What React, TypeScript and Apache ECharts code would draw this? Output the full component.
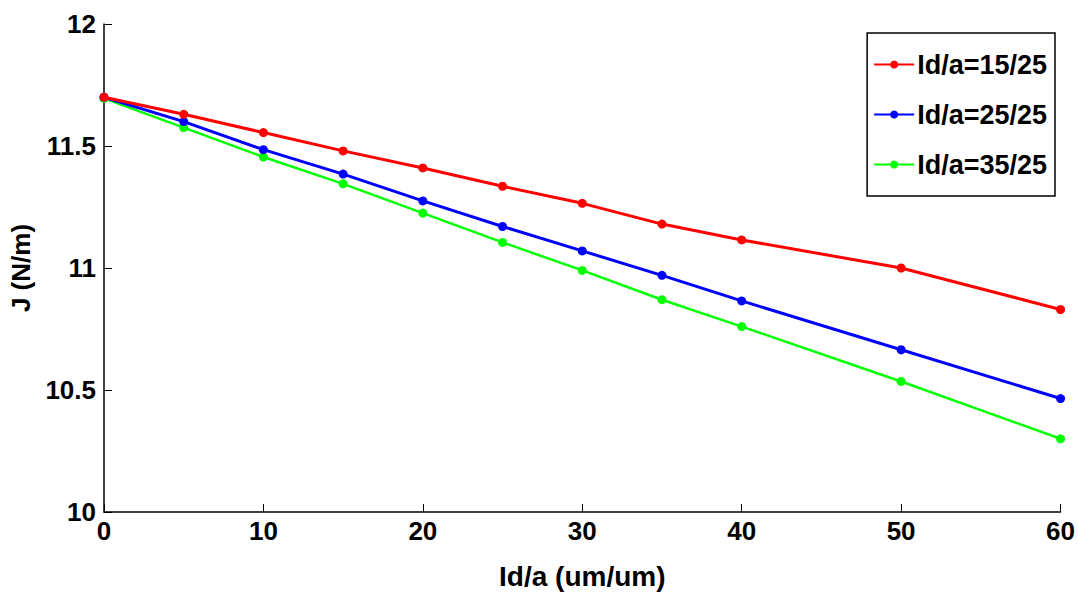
import React, { useEffect, useRef } from "react";
import * as echarts from "echarts";

const xValues = [0, 5, 10, 15, 20, 25, 30, 35, 40, 50, 60];
const red1525 = [11.70, 11.63, 11.555, 11.48, 11.41, 11.335, 11.265, 11.18, 11.115, 11.0, 10.83];
const blue2525 = [11.70, 11.60, 11.485, 11.385, 11.275, 11.17, 11.07, 10.97, 10.865, 10.665, 10.465];
const green3525 = [11.695, 11.575, 11.455, 11.345, 11.225, 11.105, 10.99, 10.87, 10.76, 10.535, 10.30];
const seriesNames = ["Id/a=15/25", "Id/a=25/25", "Id/a=35/25"];
const seriesColors = ["#ff0000", "#0000ff", "#00ff00"];

const FONT = "'Liberation Sans Narrow', 'Arial Narrow', 'Liberation Sans', Arial, sans-serif";

export default function App() {
  const ref = useRef<HTMLDivElement>(null);
  useEffect(() => {
    if (!ref.current) return;
    const chart = echarts.init(ref.current, undefined, { renderer: "svg" });
    const datasets = [red1525, blue2525, green3525];
    chart.setOption({
      animation: false,
      backgroundColor: "#ffffff",
      grid: { left: 104, right: 16, top: 24, bottom: 95, containLabel: false },
      legend: {
        orient: "vertical",
        right: 23,
        top: 33,
        padding: [18, 8, 18, 6],
        itemGap: 23,
        itemWidth: 40,
        itemHeight: 10,
        borderColor: "#000",
        borderWidth: 1.5,
        backgroundColor: "#fff",
        textStyle: { fontFamily: FONT, fontWeight: "bold", fontSize: 27, color: "#000", padding: [0, 0, 0, -2] },
        data: seriesNames,
      },
      xAxis: {
        type: "value",
        min: 0,
        max: 60,
        interval: 10,
        name: "Id/a (um/um)",
        nameLocation: "middle",
        nameGap: 50,
        nameTextStyle: { fontFamily: FONT, fontWeight: "bold", fontSize: 28, color: "#000" },
        axisLine: { show: true, onZero: false, lineStyle: { color: "#000", width: 1.5 } },
        axisTick: { show: true, inside: true, length: 8, lineStyle: { color: "#000" } },
        axisLabel: { fontFamily: FONT, fontWeight: "bold", fontSize: 26, color: "#000", margin: 6 },
        splitLine: { show: false },
      },
      yAxis: {
        type: "value",
        min: 10,
        max: 12,
        interval: 0.5,
        name: "J (N/m)",
        nameLocation: "middle",
        nameGap: 62,
        nameRotate: 90,
        nameTextStyle: { fontFamily: FONT, fontWeight: "bold", fontSize: 26, color: "#000" },
        axisLine: { show: true, onZero: false, lineStyle: { color: "#000", width: 1.5 } },
        axisTick: { show: true, inside: true, length: 8, lineStyle: { color: "#000" } },
        axisLabel: { fontFamily: FONT, fontWeight: "bold", fontSize: 26, color: "#000", margin: 8 },
        splitLine: { show: false },
      },
      series: datasets.map((d, i) => ({
        name: seriesNames[i],
        type: "line",
        data: xValues.map((x, j) => [x, d[j]]),
        color: seriesColors[i],
        symbol: "circle",
        symbolSize: 9,
        showSymbol: true,
        lineStyle: { width: i === 2 ? 2.5 : 3, color: seriesColors[i] },
        itemStyle: { color: seriesColors[i] },
        z: 10 - i,
      })),
    });
    return () => chart.dispose();
  }, []);
  return <div ref={ref} style={{ width: 1078, height: 607, position: "absolute", left: 0, top: 0 }} />;
}
